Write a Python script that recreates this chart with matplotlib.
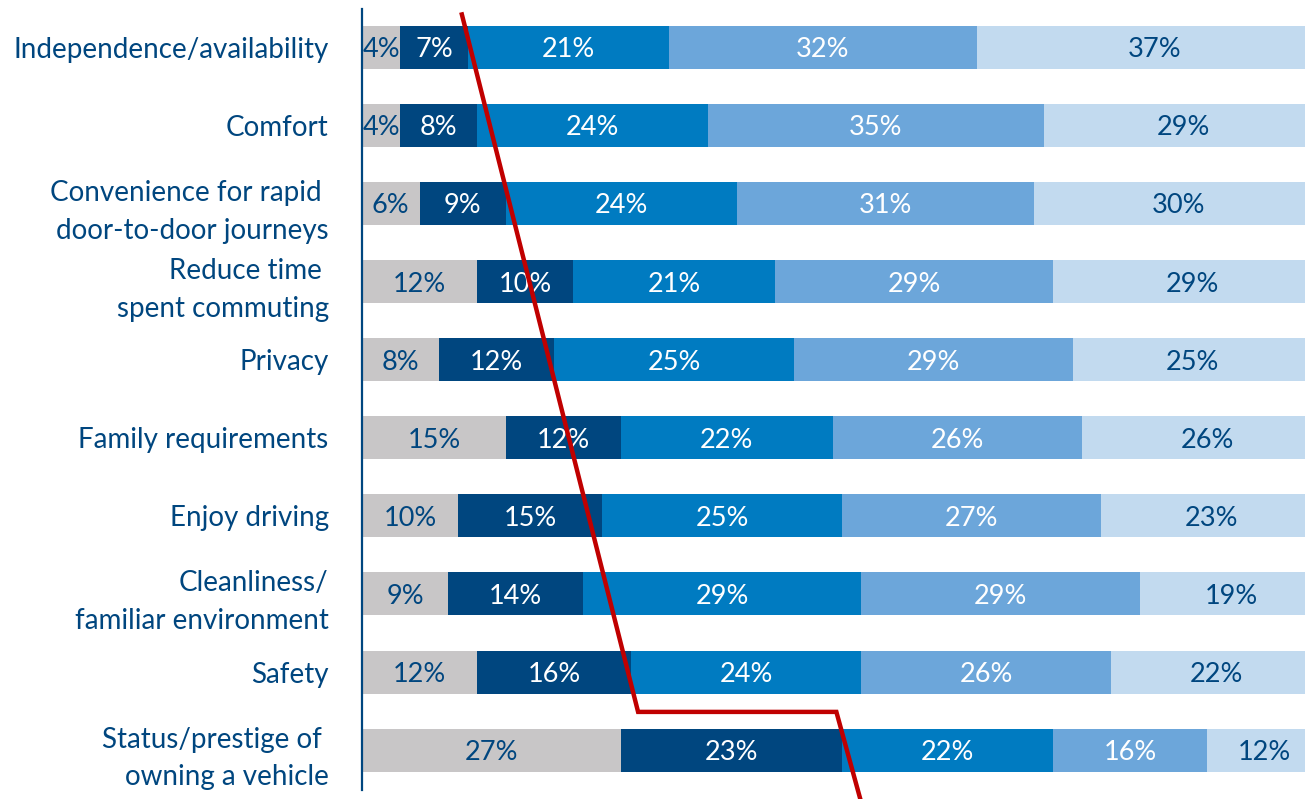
import matplotlib.pyplot as plt
import numpy as np

plt.rcParams["font.family"] = ["Lato", "DejaVu Sans"]

categories = [
    "Independence/availability",
    "Comfort",
    "Convenience for rapid \ndoor-to-door journeys",
    "Reduce time \nspent commuting",
    "Privacy",
    "Family requirements",
    "Enjoy driving",
    "Cleanliness/\nfamiliar environment",
    "Safety",
    "Status/prestige of \nowning a vehicle",
]

seg1 = [4, 4, 6, 12, 8, 15, 10, 9, 12, 27]
seg2 = [7, 8, 9, 10, 12, 12, 15, 14, 16, 23]
seg3 = [21, 24, 24, 21, 25, 22, 25, 29, 24, 22]
seg4 = [32, 35, 31, 29, 29, 26, 27, 29, 26, 16]
seg5 = [37, 29, 30, 29, 25, 26, 23, 19, 22, 12]

# red annotation line (x in %, y in row index)
red_x = [10.4, 28.75, 49.4, 51.9]
red_y = [-0.42, 8.51, 8.51, 9.63]

colors = ["#c8c6c7", "#00467f", "#007bc1", "#6ca6da", "#c2daef"]
text_colors = ["#00467f", "white", "white", "white", "#00467f"]
navy = "#00467f"

fig = plt.figure(figsize=(13.05, 7.99), dpi=100)
ax = fig.add_axes([362 / 1305, 9 / 799, 943 / 1305, 781 / 799])

y = np.arange(len(categories))
left = np.zeros(len(categories))
for vals, c, tc in zip([seg1, seg2, seg3, seg4, seg5], colors, text_colors):
    vals = np.array(vals, dtype=float)
    ax.barh(y, vals, left=left, height=0.55, color=c, edgecolor="none")
    for yi, l, v in zip(y, left, vals):
        ax.text(l + v / 2, yi, f"{int(v)}%", ha="center", va="center_baseline",
                color=tc, fontsize=19.5, clip_on=True)
    left += vals

ax.plot(red_x, red_y, color="#c00000", linewidth=3.2, clip_on=False,
        solid_joinstyle="miter", zorder=5)

# bars run slightly past the right edge in the original
ax.set_xlim(0, 98.2)
ax.set_ylim(9.51, -0.49)
ax.set_yticks(y)
ax.set_yticklabels(categories, fontsize=20, color=navy, linespacing=1.55)
ax.tick_params(axis="y", length=0, pad=24)
ax.tick_params(axis="x", bottom=False, labelbottom=False)
for s in ["top", "right", "bottom"]:
    ax.spines[s].set_visible(False)
ax.spines["left"].set_color(navy)
ax.spines["left"].set_linewidth(1.6)

fig.savefig("out.png", dpi=100)
